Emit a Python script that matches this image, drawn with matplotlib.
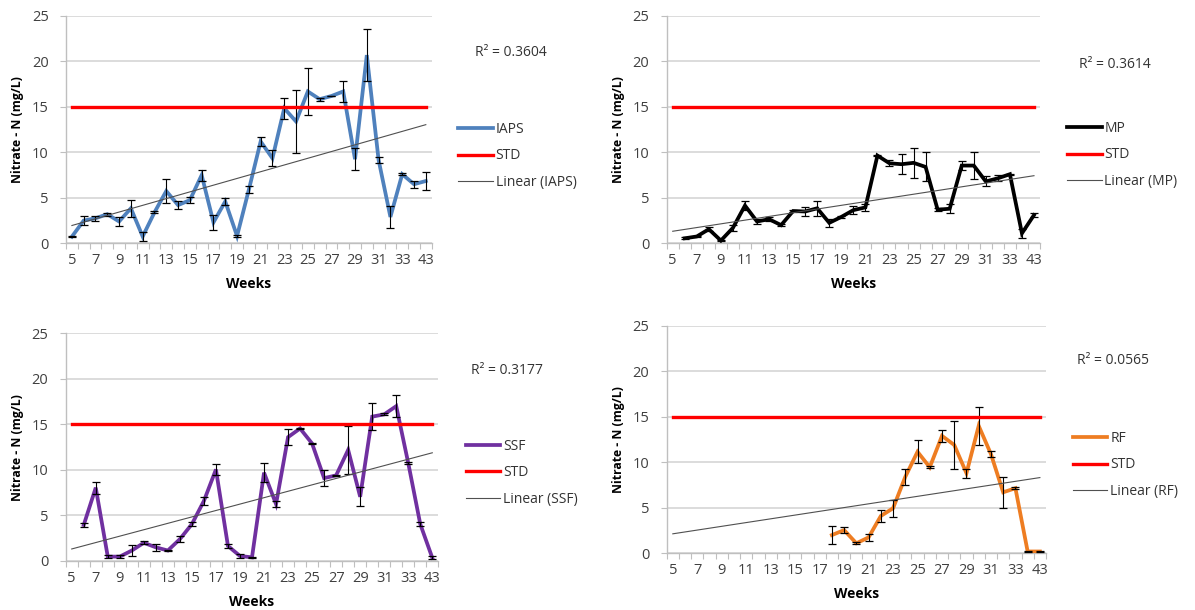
import numpy as np
import matplotlib.pyplot as plt

plt.rcParams['font.family'] = ['Open Sans', 'DejaVu Sans']

W, H = 1195, 610
nan = np.nan

weeks = list(range(5, 35)) + [43]

iaps = [0.73, 2.5, 2.75, 3.2, 2.4, 3.85, 0.75, 3.4, 5.75, 4.2,
        4.75, 7.5, 2.3, 4.6, 0.8, 5.9, 11.2, 9.35, 14.85, 13.4,
        16.7, 15.85, 16.2, 16.7, 9.25, 20.7, 9.15, 2.9, 7.6, 6.5, 6.85]
iaps_err = [0.08, 0.5, 0.25, 0.15, 0.45, 0.95, 0.5, 0.1, 1.3, 0.45,
            0.3, 0.6, 0.8, 0.4, 0.15, 0.35, 0.5, 0.9, 1.15, 3.5,
            2.6, 0.15, 0.05, 1.15, 1.2, 2.9, 0.35, 1.2, 0.1, 0.4, 1.0]

mp = [nan, 0.55, 0.75, 1.55, 0.3, 1.7, 4.15, 2.4, 2.65, 2.0,
      3.55, 3.5, 3.85, 2.25, 2.9, 3.65, 3.95, 9.65, 8.8, 8.7,
      8.85, 8.4, 3.7, 3.8, 8.55, 8.55, 6.8, 7.15, 7.6, 1.1, 3.1]
mp_err = [nan, 0.1, 0.1, 0.2, 0.1, 0.3, 0.5, 0.3, 0.25, 0.15,
          0.1, 0.5, 0.85, 0.45, 0.15, 0.45, 0.4, 0.1, 0.35, 1.1,
          1.65, 1.6, 0.2, 0.5, 0.5, 1.45, 0.55, 0.35, 0.05, 0.5, 0.25]

ssf = [nan, 3.95, 8.05, 0.48, 0.48, 1.15, 2.0, 1.5, 1.15, 2.4,
       4.05, 6.6, 10.05, 1.65, 0.55, 0.4, 9.7, 6.25, 13.6, 14.55,
       12.9, 9.1, 9.4, 12.2, 7.05, 15.85, 16.1, 17.0, 10.75, 4.05, 0.35]
ssf_err = [nan, 0.25, 0.65, 0.2, 0.15, 0.6, 0.15, 0.4, 0.1, 0.35,
           0.25, 0.45, 0.65, 0.25, 0.2, 0.05, 1.05, 0.35, 0.85, 0.1,
           0.1, 0.85, 0.05, 2.6, 1.05, 1.45, 0.1, 1.2, 0.1, 0.2, 0.15]

rf = [nan] * 13 + [2.0, 2.55, 1.1, 1.75, 4.1, 4.95, 8.4, 11.15, 9.45, 12.9,
                   11.9, 8.8, 14.0, 10.9, 6.7, 7.15, 0.2, 0.2]
rf_err = [nan] * 13 + [0.95, 0.35, 0.1, 0.4, 0.65, 0.95, 0.85, 1.25, 0.1, 0.65,
                       2.6, 0.5, 2.1, 0.3, 1.7, 0.1, 0.05, 0.05]

std_limit = [15.0] * len(weeks)

r2_labels = ['R² = 0.3604', 'R² = 0.3614', 'R² = 0.3177', 'R² = 0.0565']

GRID = '#d9d9d9'
AXIS = '#bfbfbf'
TICK_TXT = '#404040'


def fig_box(left, top, right, bottom):
    return [left / W, 1 - bottom / H, (right - left) / W, (bottom - top) / H]


def draw_panel(fig, box, name, vals, errs, color, r2, legend_xy, r2_xy):
    l, t, r, b = box
    ax = fig.add_axes(fig_box(l, t, r, b))
    x = np.arange(len(weeks))
    y = np.array(vals, dtype=float)
    e = np.array(errs, dtype=float)

    series, = ax.plot(x, y, color=color, lw=2.7, solid_joinstyle='miter', zorder=3, label=name)
    eb = ax.errorbar(x, y, yerr=e, fmt='none', ecolor='black', elinewidth=0.8,
                     capsize=3, capthick=0.9, zorder=4)
    for cap in eb[1]:
        cap.set_color('#7f7f7f')
    std, = ax.plot(x, std_limit, color='#ff0000', lw=2.4, zorder=5, label='STD')

    # least-squares trend over the weeks that have a reading
    ok = ~np.isnan(y)
    coef = np.polyfit(x[ok], y[ok], 1)
    trend, = ax.plot(x, np.polyval(coef, x), color='#505050', lw=0.8, zorder=6,
                     label=f'Linear ({name})')

    ax.set_xlim(-0.5, len(weeks) - 0.5)
    ax.set_ylim(0, 25)
    ax.set_yticks(np.arange(0, 26, 5))
    ax.yaxis.grid(True, color=GRID, lw=1.3)
    ax.set_axisbelow(True)

    # tick marks sit between categories, labels on every other week
    ax.set_xticks(np.arange(-0.5, len(weeks), 1))
    ax.set_xticklabels([])
    ax.set_xticks(x[::2], minor=True)
    ax.set_xticklabels([str(w) for w in weeks[::2]], minor=True)
    ax.tick_params(axis='x', which='major', direction='out', length=4, width=0.8, color=AXIS)
    ax.tick_params(axis='x', which='minor', length=0, pad=7, labelsize=10.5, labelcolor=TICK_TXT)
    ax.tick_params(axis='y', direction='out', length=4.5, width=0.8, color=AXIS,
                   pad=8, labelsize=10.5, labelcolor=TICK_TXT)

    for side in ('top', 'right'):
        ax.spines[side].set_visible(False)
    for side in ('left', 'bottom'):
        ax.spines[side].set_color(AXIS)
        ax.spines[side].set_linewidth(1.0)

    fig.text((l - 48) / W, 1 - (t + b) / 2 / H, 'Nitrate - N (mg/L)', rotation=90,
             ha='center', va='center', fontsize=8.8, fontweight='bold')
    fig.text((l + r) / 2 / W, 1 - (b + 40.5) / H, 'Weeks',
             ha='center', va='center', fontsize=10, fontweight='bold')

    fig.text(r2_xy[0] / W, 1 - r2_xy[1] / H, r2, ha='left', va='center',
             fontsize=10, color='#333333')

    ax.legend(handles=[series, std, trend], loc='center left',
              bbox_to_anchor=(legend_xy[0] / W, 1 - legend_xy[1] / H),
              bbox_transform=fig.transFigure, frameon=False, fontsize=10,
              borderpad=0, borderaxespad=0, handlelength=2.5, handletextpad=0.2,
              labelspacing=0.82, labelcolor='#333333')
    return ax


fig = plt.figure(figsize=(W / 100, H / 100), dpi=100)

draw_panel(fig, (66, 16, 431.7, 243.3), 'IAPS', iaps, iaps_err, '#4f81bd',
           r2_labels[0], (458, 156), (475, 53))
draw_panel(fig, (666.7, 16, 1040, 243.3), 'MP', mp, mp_err, '#000000',
           r2_labels[1], (1067, 155), (1079, 65))
draw_panel(fig, (65.7, 333.3, 438.3, 561), 'SSF', ssf, ssf_err, '#7030a0',
           r2_labels[2], (465.7, 472.7), (470.7, 371))
draw_panel(fig, (666.7, 325.7, 1046, 553.3), 'RF', rf, rf_err, '#ee7d22',
           r2_labels[3], (1072.7, 465), (1076.7, 361))

fig.savefig('out.png', dpi=100)
